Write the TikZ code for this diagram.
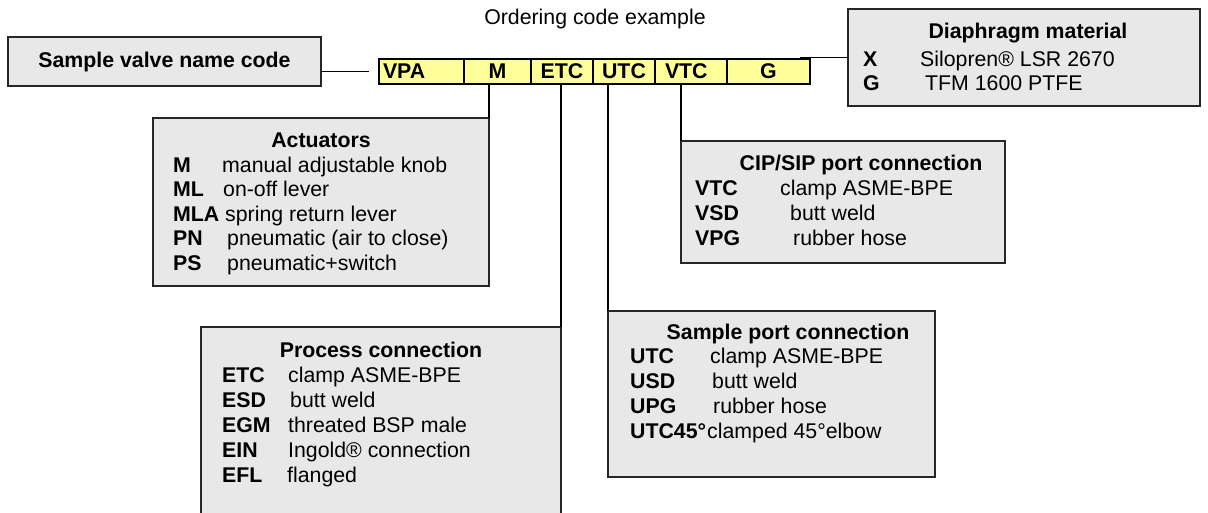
\documentclass[tikz,border=0pt]{standalone}
\usepackage{fontspec}
\setmainfont{Liberation Sans}
\usetikzlibrary{positioning}
\definecolor{codeyellow}{RGB}{255,255,153}
\definecolor{panelgray}{RGB}{232,232,232}
\newcommand\boxfont{\fontsize{21.3}{24}\selectfont}
\tikzset{
  panel/.style = {draw=black!85, line width=2pt, fill=panelgray,
    anchor=north west, inner sep=0, outer sep=0},
  cell/.style = {draw=black, line width=2pt, fill=codeyellow, minimum height=25pt,
    inner sep=0, outer sep=0, font=\boxfont\bfseries},
  head/.style = {anchor=base, inner sep=0, font=\boxfont\bfseries},
  key/.style = {anchor=base west, inner sep=0, font=\boxfont\bfseries},
  desc/.style = {anchor=base west, inner sep=0, font=\boxfont},
  link/.style = {line width=1.8pt}
}

\begin{document}
\begin{tikzpicture}[x=1pt,y=-1pt]
  \useasboundingbox (0,0) rectangle (1208,513);
  \clip (0,0) rectangle (1208,513);
  % title
  \node[anchor=base, font=\boxfont] (title) at (595,25) {Ordering code example};
  % name box
  \node[panel, minimum width=313pt, minimum height=49pt, font=\boxfont\bfseries] (name) at (8,37) {Sample valve name code};
  % code cells
  \node[cell, anchor=north west, minimum width=85pt, text width=77pt, inner xsep=4pt, align=left] (vpa) at (379,59) {VPA};
  \node[cell, right=0pt of vpa, minimum width=67pt] (m) {M};
  \node[cell, right=0pt of m, minimum width=62pt] (etc) {ETC};
  \node[cell, right=0pt of etc, minimum width=62pt] (utc) {UTC};
  \node[cell, right=0pt of utc, minimum width=72pt, text width=52pt, inner xsep=10pt, align=left] (vtc) {VTC};
  \node[cell, right=0pt of vtc, minimum width=83pt] (g) {G};
  % panels
  \node[panel, minimum width=336pt, minimum height=168pt] (act) at (153,118) {};
  \node[panel, minimum width=360pt, minimum height=220pt] (proc) at (201,327) {};
  \node[panel, minimum width=327pt, minimum height=166pt] (port) at (608,311) {};
  \node[panel, minimum width=324pt, minimum height=122pt] (cip) at (681,141) {};
  \node[panel, minimum width=352pt, minimum height=97pt] (dia) at (848,9) {};
  % actuators
  \node[head] (act-h) at (321,148) {Actuators};
  \foreach \k/\dx/\d [count=\i] in {M/49/manual adjustable knob, ML/50/on-off lever,
      MLA/52/spring return lever, PN/54/pneumatic (air to close), PS/54/pneumatic+switch}{
    \node[key] (act-k\i) at (173,148+24.5*\i) {\k};
    \node[desc] (act-d\i) at (173+\dx,148+24.5*\i) {\d};
  }
  % process connection
  \node[head] (proc-h) at (381,357) {Process connection};
  \foreach \k/\dx/\d [count=\i] in {ETC/66/clamp ASME-BPE, ESD/68/butt weld,
      EGM/66/threated BSP male, EIN/66/Ingold® connection, EFL/65/flanged}{
    \node[key] (proc-k\i) at (222,357+25*\i) {\k};
    \node[desc] (proc-d\i) at (222+\dx,357+25*\i) {\d};
  }
  % sample port connection
  \node[head] (port-h) at (788,339) {Sample port connection};
  \foreach \k/\dx/\d [count=\i] in {UTC/80/clamp ASME-BPE, USD/82/butt weld,
      UPG/83/rubber hose, UTC45°/77/clamped 45°elbow}{
    \node[key] (port-k\i) at (630,339+24.75*\i) {\k};
    \node[desc] (port-d\i) at (630+\dx,339+24.75*\i) {\d};
  }
  % cip/sip port connection
  \node[head] (cip-h) at (861,171) {CIP/SIP port connection};
  \foreach \k/\dx/\d [count=\i] in {VTC/85/clamp ASME-BPE, VSD/95/butt weld,
      VPG/98/rubber hose}{
    \node[key] (cip-k\i) at (695,171+25*\i) {\k};
    \node[desc] (cip-d\i) at (695+\dx,171+25*\i) {\d};
  }
  % diaphragm material
  \node[head] (dia-h) at (1028,39) {Diaphragm material};
  \foreach \k/\dx/\d [count=\i] in {X/57/Silopren® LSR 2670, G/62/TFM 1600 PTFE}{
    \node[key] (dia-k\i) at (863,43+24*\i) {\k};
    \node[desc] (dia-d\i) at (863+\dx,43+24*\i) {\d};
  }
  % links
  \draw[link] (name.east |- vpa.west) -- ([xshift=-10pt]vpa.west);
  \draw[link] (act.north east) -- (act.north east |- m.south);
  \draw[link] (proc.north east) -- (proc.north east |- etc.south);
  \draw[link] (port.north west) -- (port.north west |- utc.south);
  \draw[link] (cip.north west) -- (cip.north west |- vtc.south);
  \draw[link] (g.north east) |- (dia.west);
  \draw[link] (g.north east |- dia.west) -- ++(-10,0);
\end{tikzpicture}
\end{document}
